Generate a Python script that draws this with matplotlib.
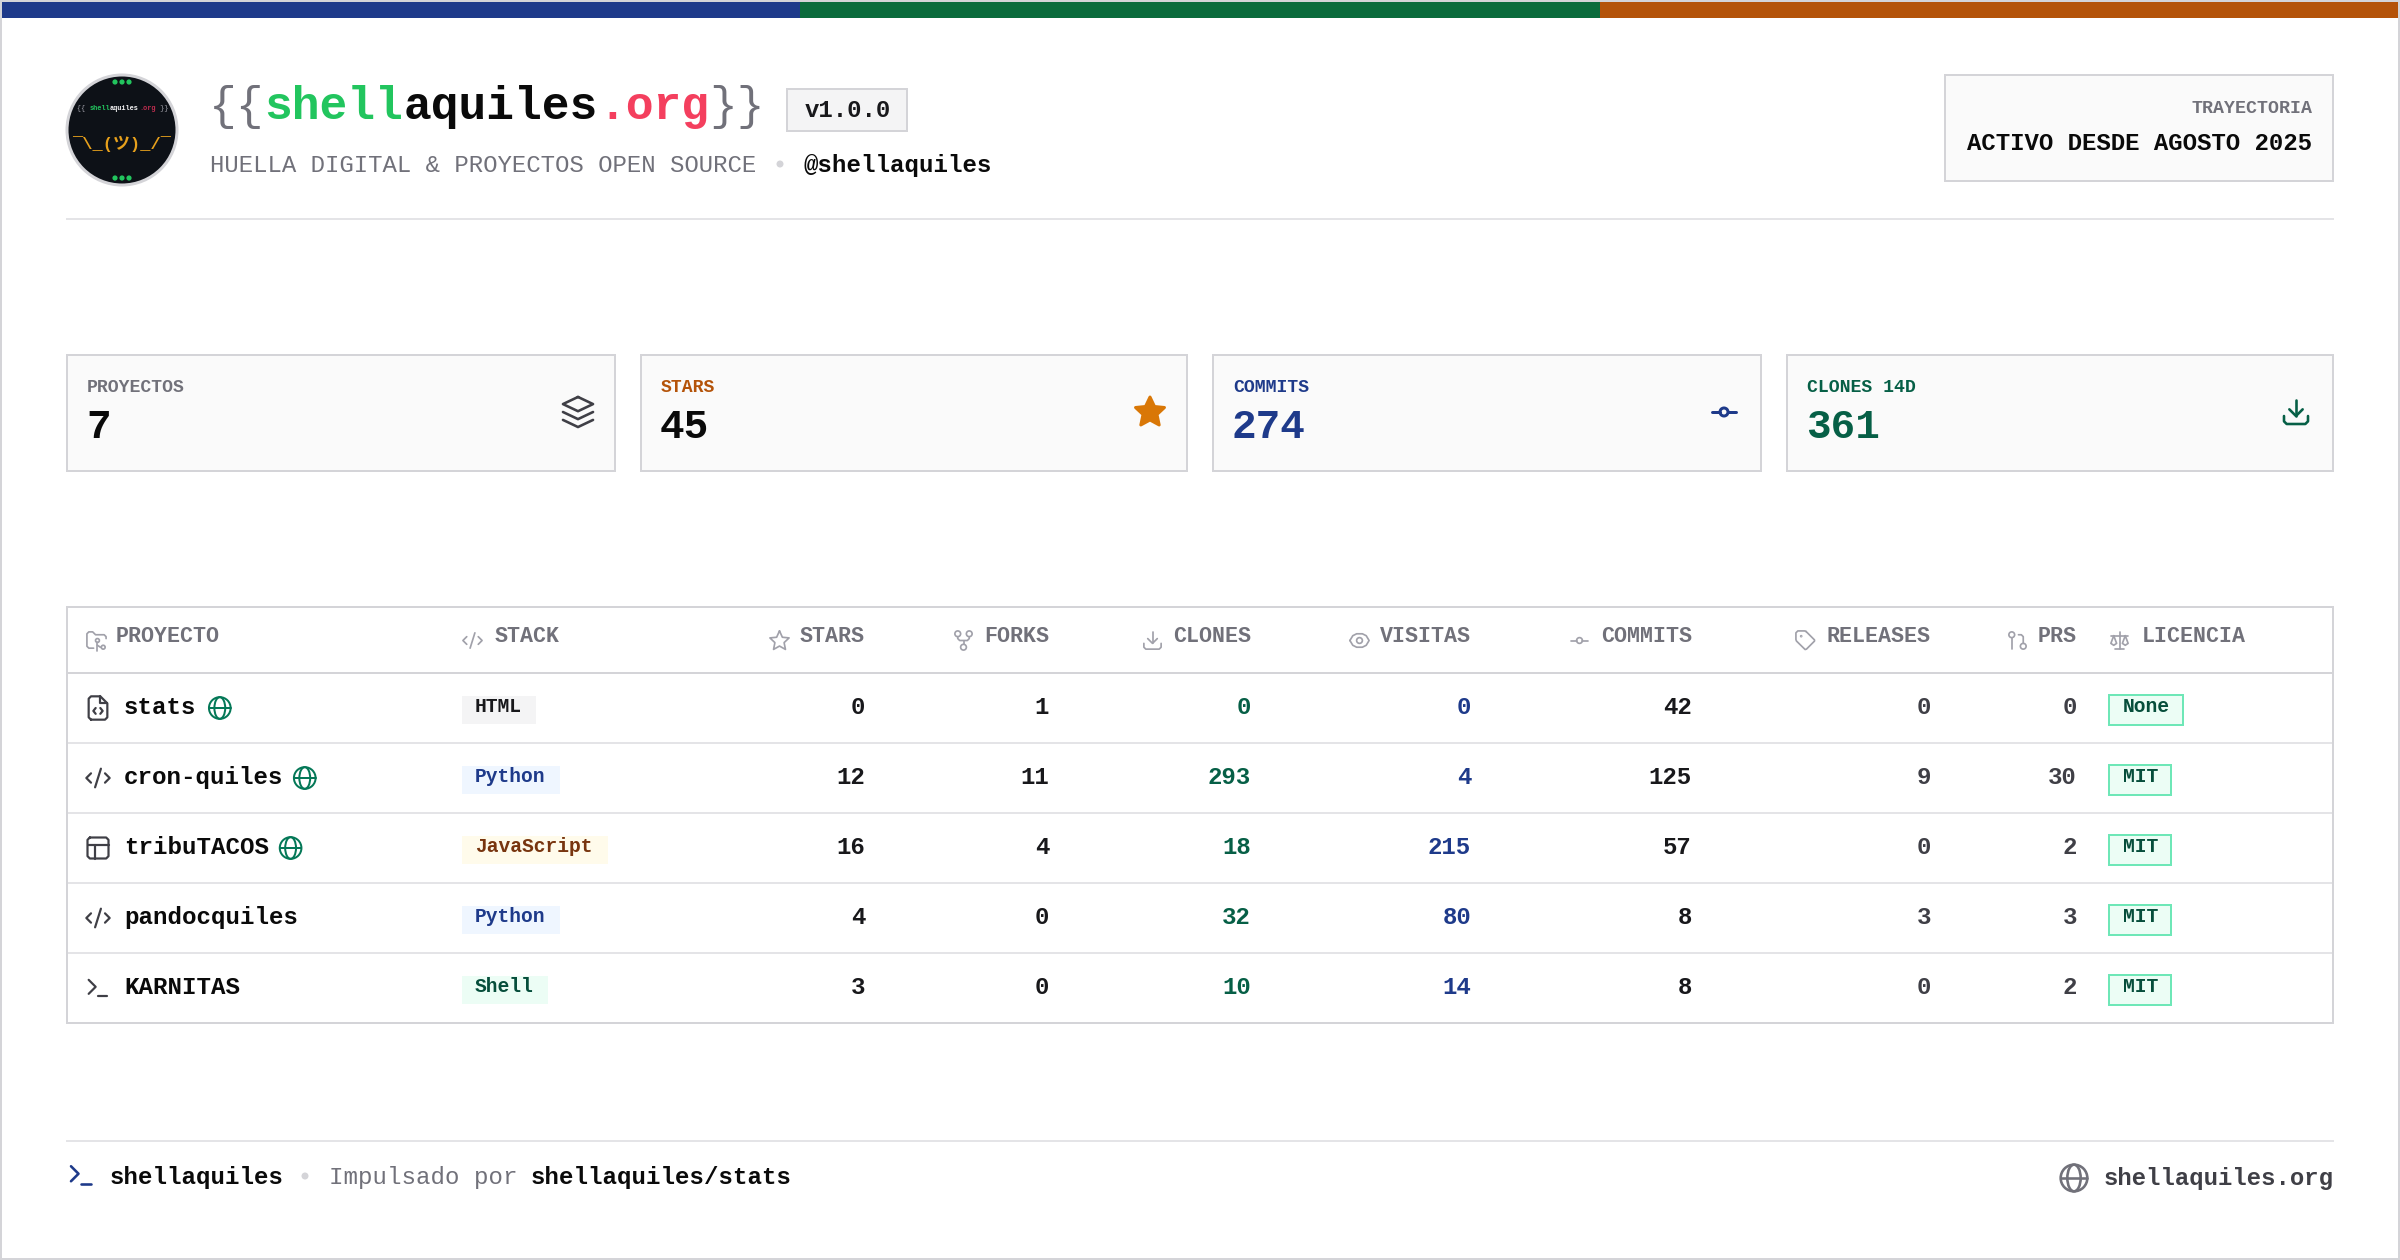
from matplotlib import pyplot as plt
from matplotlib.patches import Rectangle, Circle, Ellipse, Polygon

plt.rcParams['font.family'] = ['Liberation Mono', 'Noto Sans CJK JP', 'DejaVu Sans']

# datos de la tabla
proyectos = ['stats', 'cron-quiles', 'tribuTACOS', 'pandocquiles', 'KARNITAS']
stacks = ['HTML', 'Python', 'JavaScript', 'Python', 'Shell']
stars = [0, 12, 16, 4, 3]
forks = [1, 11, 4, 0, 0]
clones = [0, 293, 18, 32, 10]
visitas = [0, 4, 215, 80, 14]
commits = [42, 125, 57, 8, 8]
releases = [0, 9, 0, 3, 0]
prs = [0, 30, 2, 3, 2]
licencias = ['None', 'MIT', 'MIT', 'MIT', 'MIT']
con_web = [True, True, True, False, False]
iconos_fila = ['file', 'code', 'layout', 'code', 'term']

# tarjetas
kpi_labels = ['PROYECTOS', 'STARS', 'COMMITS', 'CLONES 14D']
kpi_values = ['7', '45', '274', '361']

# colores
BLUE = '#1e3a8a'
GREEN = '#0a6b3c'
ORANGE = '#b45309'
BORDER = '#d4d4d8'
LINE = '#e4e4e7'
GRAY = '#71717a'
INK = '#0a0a0a'
stack_bg = {'HTML': '#f4f4f5', 'Python': '#eff6ff', 'JavaScript': '#fffbeb', 'Shell': '#ecfdf5'}
stack_fg = {'HTML': '#18181b', 'Python': '#1e3a8a', 'JavaScript': '#78350f', 'Shell': '#064e3b'}
stack_right = {'HTML': 536, 'Python': 560, 'JavaScript': 608, 'Shell': 548}

fig = plt.figure(figsize=(12, 6.3), dpi=200, facecolor='white')
ax = fig.add_axes([0, 0, 1, 1])
ax.set_xlim(0, 2400)
ax.set_ylim(1260, 0)
ax.axis('off')


def px(v):
    # pixeles de la imagen a puntos
    return v * 0.36


def fill(x0, y0, x1, y1, c):
    ax.add_patch(Rectangle((x0, y0), x1 - x0, y1 - y0, fc=c, ec='none', lw=0))


def box(x0, y0, x1, y1, fc, ec, b=2):
    fill(x0, y0, x1, y1, ec)
    fill(x0 + b, y0 + b, x1 - b, y1 - b, fc)


def txt(x, y, s, size, color=INK, bold=True, ha='left'):
    ax.text(x, y, s, fontsize=px(size), color=color, ha=ha, va='baseline',
            fontweight='bold' if bold else 'normal', family=['Liberation Mono', 'Noto Sans CJK JP'])


def runs(x, y, parts, size):
    # varios colores en una linea, la fuente es monoespaciada
    for s, color, bold in parts:
        txt(x, y, s, size, color, bold)
        x += len(s) * size * 0.6


def icon(name, x0, y0, size, color, lw=2.0, sy=None):
    k = size / 24.0
    ky = k if sy is None else sy / 24.0

    def P(pts, closed=False):
        xs = [x0 + p[0] * k for p in pts]
        ys = [y0 + p[1] * ky for p in pts]
        if closed:
            xs.append(xs[0])
            ys.append(ys[0])
        ax.plot(xs, ys, color=color, lw=px(lw), solid_capstyle='round', solid_joinstyle='round')

    def C(cx, cy, r):
        ax.add_patch(Ellipse((x0 + cx * k, y0 + cy * ky), 2 * r * k, 2 * r * ky, fc='none', ec=color, lw=px(lw)))

    if name == 'layers':
        P([(12, 2.5), (21.5, 7), (12, 11.5), (2.5, 7)], True)
        P([(2.5, 12), (12, 16.5), (21.5, 12)])
        P([(2.5, 17), (12, 21.5), (21.5, 17)])
    elif name == 'star':
        P([(12, 2), (15, 8.6), (22, 9.3), (16.8, 14.2), (18.2, 21.3), (12, 17.8), (5.8, 21.3), (7.2, 14.2), (2, 9.3), (9, 8.6)], True)
    elif name == 'commit':
        C(12, 12, 3)
        P([(3, 12), (9, 12)])
        P([(15, 12), (21, 12)])
    elif name == 'download':
        P([(12, 15), (12, 3)])
        P([(7, 10), (12, 15), (17, 10)])
        P([(3, 15), (3, 19), (5, 21), (19, 21), (21, 19), (21, 15)])
    elif name == 'folder':
        P([(9, 20), (4, 20), (2, 18), (2, 5), (4, 3), (8, 3), (11, 6), (20, 6), (22, 8), (22, 10)])
        C(13, 12, 2)
        P([(13, 14), (13, 23)])
        C(19, 19, 2)
        P([(13, 17), (16, 19), (17, 19)])
    elif name == 'code':
        P([(18, 16), (22, 12), (18, 8)])
        P([(6, 8), (2, 12), (6, 16)])
        P([(14.5, 4), (9.5, 20)])
    elif name == 'fork':
        C(12, 19, 3)
        C(6, 5, 3)
        C(18, 5, 3)
        P([(18, 8), (18, 10), (16, 12), (8, 12), (6, 10), (6, 8)])
        P([(12, 12), (12, 16)])
    elif name == 'eye':
        P([(2, 12), (5, 7), (9, 5), (15, 5), (19, 7), (22, 12), (19, 17), (15, 19), (9, 19), (5, 17)], True)
        C(12, 12, 3)
    elif name == 'tag':
        P([(12.6, 2.6), (21.4, 11.4), (21.4, 12.6), (13, 21), (11.6, 21.4), (2.6, 12.6), (2, 11), (2, 4), (4, 2), (11, 2)], True)
        C(7.5, 7.5, 0.5)
    elif name == 'pr':
        C(18, 18, 3)
        C(6, 6, 3)
        P([(6, 9), (6, 21)])
        P([(13, 6), (16, 6), (18, 8), (18, 15)])
    elif name == 'scale':
        P([(3, 7), (21, 7)])
        P([(12, 3), (12, 21)])
        P([(7, 21), (17, 21)])
        P([(6, 7), (3, 15), (6, 17), (9, 15)], True)
        P([(18, 7), (15, 15), (18, 17), (21, 15)], True)
    elif name == 'file':
        P([(6, 22), (4, 20), (4, 4), (6, 2), (14, 2), (20, 8), (20, 20), (18, 22)], True)
        P([(14, 2), (14, 8), (20, 8)])
        P([(10, 12), (8, 14.5), (10, 17)])
        P([(14, 12), (16, 14.5), (14, 17)])
    elif name == 'layout':
        P([(5, 3), (19, 3), (21, 5), (21, 19), (19, 21), (5, 21), (3, 19), (3, 5)], True)
        P([(3, 9), (21, 9)])
        P([(9, 9), (9, 21)])
    elif name == 'term':
        P([(4, 17), (10, 11), (4, 5)])
        P([(12, 19), (20, 19)])
    elif name == 'globe':
        C(12, 12, 10)
        P([(2, 12), (22, 12)])
        ax.add_patch(Ellipse((x0 + 12 * k, y0 + 12 * ky), 10 * k, 20 * ky, fc='none', ec=color, lw=px(lw)))


# marco y barra superior
box(0, 0, 2400, 1260, 'white', BORDER)
fill(2, 2, 800, 18, BLUE)
fill(800, 2, 1600, 18, GREEN)
fill(1600, 2, 2398, 18, ORANGE)

# logo
ax.add_patch(Circle((122, 130), 55, fc='#0d1117', ec=BORDER, lw=px(3)))
for cy in [82, 178]:
    for dx in [-7, 0, 7]:
        ax.add_patch(Circle((122 + dx, cy), 2.6, fc='#22c55e', ec='none'))
runs(77, 110, [('{{ ', '#a1a1aa', False), ('shell', '#22c55e', True), ('aquiles', '#f4f4f5', True),
               ('.org', '#be2d4f', True), (' }}', '#a1a1aa', False)], 6.9)
txt(122, 149, '¯\\_(ツ)_/¯', 17, '#e6a01c', True, ha='center')

# cabecera
runs(209, 119, [('{{', GRAY, False), ('shell', '#22c55e', True), ('aquiles', INK, True),
                ('.org', '#f43f5e', True), ('}}', GRAY, False)], 46.3)
box(786, 88, 908, 132, '#f4f4f5', BORDER)
txt(848, 117, 'v1.0.0', 24, '#18181b', True, ha='center')
txt(210, 172, 'HUELLA DIGITAL & PROYECTOS OPEN SOURCE', 24, GRAY, False)
ax.add_patch(Circle((780, 164), 3.5, fc=BORDER, ec='none'))
txt(804, 172, '@shellaquiles', 24.2, INK, True)

box(1944, 74, 2334, 182, '#fafafa', BORDER)
txt(2312, 113, 'TRAYECTORIA', 18.3, GRAY, True, ha='right')
txt(2312, 150, 'ACTIVO DESDE AGOSTO 2025', 24, INK, True, ha='right')
fill(66, 218, 2334, 220, LINE)

# tarjetas
kpi_x = [(66, 616), (640, 1188), (1212, 1762), (1786, 2334)]
kpi_label_c = [GRAY, ORANGE, BLUE, '#065f46']
kpi_value_c = [INK, INK, BLUE, '#065f46']
for i in range(4):
    x0, x1 = kpi_x[i]
    box(x0, 354, x1, 472, '#fafafa', BORDER)
    txt(x0 + 21, 392, kpi_labels[i], 18.2, kpi_label_c[i], True)
    txt(x0 + 20, 438, kpi_values[i], 41, kpi_value_c[i], True)
icon('layers', 559, 393, 38, '#3f3f46', 2.6)
star = [(0, -15), (4.5, -5.5), (14.5, -4.5), (7, 2.5), (9.2, 13), (0, 8), (-9.2, 13), (-7, 2.5), (-14.5, -4.5), (-4.5, -5.5)]
ax.add_patch(Polygon([(1150 + a, 412 + b) for a, b in star], fc='#d97706', ec='#d97706', lw=px(3), joinstyle='round'))
icon('commit', 1708, 396, 32, BLUE, 3)
icon('download', 2280, 396, 32, '#065f46', 2.6)

# tabla
box(66, 606, 2334, 1024, 'white', BORDER)
fill(68, 672, 2332, 674, BORDER)
for y in [742, 812, 882, 952]:
    fill(68, y, 2332, y + 2, LINE)

HDR = 642
ICO = '#a1a1aa'
header_left = [('PROYECTO', 116, 'folder', 85), ('STACK', 495, 'code', 461), ('LICENCIA', 2142, 'scale', 2108)]
header_right = [('STARS', 865, 'star', 768), ('FORKS', 1049, 'fork', 952), ('CLONES', 1251, 'download', 1141),
                ('VISITAS', 1471, 'eye', 1348), ('COMMITS', 1692, 'commit', 1568), ('RELEASES', 1931, 'tag', 1794),
                ('PRS', 2077, 'pr', 2006)]
for name, x, ic, ix in header_left:
    txt(x, HDR, name, 21.6, GRAY, True)
    icon(ic, ix, 629, 23, ICO, 1.7)
for name, x, ic, ix in header_right:
    txt(x, HDR, name, 21.6, GRAY, True, ha='right')
    icon(ic, ix, 629, 23, ICO, 1.7)

for i in range(len(proyectos)):
    base = 714 + 70 * i
    top = 673 + 70 * i
    name = proyectos[i]
    icon(iconos_fila[i], 84, base - 20, 28, '#3f3f46', 2.2)
    txt(124, base, name, 24.2, INK, True)
    if con_web[i]:
        gx = 125 + len(name) * 14.16 + 13
        icon('globe', gx - 2, base - 19, 26, '#047857', 2.0)
    s = stacks[i]
    fill(462, top + 23, stack_right[s], top + 51, stack_bg[s])
    txt(475, top + 39, s, 19.7, stack_fg[s], True)
    txt(865, base, str(stars[i]), 24, '#18181b', True, ha='right')
    txt(1049, base, str(forks[i]), 24, '#18181b', True, ha='right')
    txt(1251, base, str(clones[i]), 24, '#065f46', True, ha='right')
    txt(1471, base, str(visitas[i]), 24, BLUE, True, ha='right')
    txt(1692, base, str(commits[i]), 24, '#18181b', True, ha='right')
    txt(1931, base, str(releases[i]), 24, '#3f3f46', True, ha='right')
    txt(2077, base, str(prs[i]), 24, '#3f3f46', True, ha='right')
    lic = licencias[i]
    box(2108, top + 21, 2184 if lic == 'None' else 2172, top + 53, '#ecfdf5', '#6ee7b7')
    txt(2123, top + 39, lic, 19.7, '#064e3b', True)

# pie
fill(66, 1140, 2334, 1142, LINE)
icon('term', 66, 1160, 30, BLUE, 2.6)
txt(110, 1184, 'shellaquiles', 24.2, INK, True)
ax.add_patch(Circle((305, 1176), 3.5, fc=BORDER, ec='none'))
txt(329, 1184, 'Impulsado por', 24.2, GRAY, False)
txt(531, 1184, 'shellaquiles/stats', 24.1, INK, True)
icon('globe', 2058, 1162, 32, GRAY, 2.6)
txt(2334, 1185, 'shellaquiles.org', 23.9, '#3f3f46', True, ha='right')

plt.savefig('out.png', dpi=200)
